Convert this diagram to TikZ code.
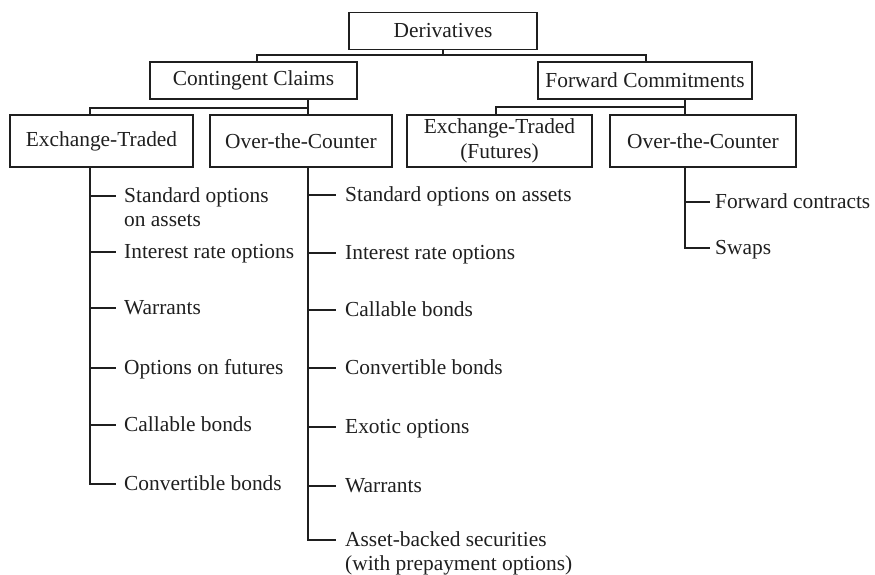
\documentclass[tikz,border=0pt]{standalone}
\usepackage{fontspec}
\setmainfont{Liberation Serif}
\newcommand\fsz{\fontsize{21.4}{24.5}\selectfont}
\begin{document}
\begin{tikzpicture}[x=1pt,y=-1pt,
  ink/.style={draw=black!88, line width=1.6pt},
  box/.style={ink, inner sep=0pt, align=center, font=\fsz, text=black!88},
  item/.style={inner sep=0pt, align=left, font=\fsz, text=black!88, anchor=base west},
  item2/.style={item, anchor=north west},
  conn/.style={ink, line width=1.5pt}]
\useasboundingbox (0,0) rectangle (875,574);
% boxes
\node[box, minimum width=188pt, minimum height=37pt] (deriv) at (443,31) {Derivatives};
\node[box, minimum width=207pt, minimum height=37pt] (cc) at (253.5,80.5) {Contingent Claims};
\node[box, minimum width=214pt, minimum height=37pt] (fc) at (645,80.5) {Forward Commitments};
\node[box, minimum width=183pt, minimum height=52pt] (et1) at (101.5,141) {Exchange-Traded};
\node[box, minimum width=182pt, minimum height=52pt] (otc1) at (301,141) {Over-the-Counter};
\node[box, minimum width=185pt, minimum height=52pt] (et2) at (499.5,141) {Exchange-Traded\\(Futures)};
\node[box, minimum width=186pt, minimum height=52pt] (otc2) at (703,141) {Over-the-Counter};
% vertical line positions
\coordinate (xcc) at (257,0);
\coordinate (xfc) at (646,0);
\coordinate (xa) at (90,0);
\coordinate (xb) at (308,0);
\coordinate (xc) at (496,0);
\coordinate (xd) at (685,0);
\coordinate (j1) at (443,55);
\coordinate (j2) at (308,108);
\coordinate (j3) at (685,107);
% top connectors
\draw[conn] (deriv.south) -- (j1);
\draw[conn] (cc.north -| xcc) |- (j1) -| (fc.north -| xfc);
\draw[conn] (cc.south -| xb) -- (otc1.north -| xb);
\draw[conn] (j2) -| (et1.north -| xa);
\draw[conn] (fc.south -| xd) -- (otc2.north -| xd);
\draw[conn] (j3) -| (et2.north -| xc);
% left list
\node[item2] (a1) at (124,187.4) {Standard options\\on assets};
\node[item] (a2) at (124,258) {Interest rate options};
\node[item] (a3) at (124,314) {Warrants};
\node[item] (a4) at (124,374) {Options on futures};
\node[item] (a5) at (124,431) {Callable bonds};
\node[item] (a6) at (124,490) {Convertible bonds};
\draw[conn] (et1.south -| xa) |- ([xshift=-8pt,yshift=6pt]a6.base west);
\draw[conn] (xa |- a1.north west) ++(0,8.6) coordinate (t1) (t1) -- ([xshift=-8pt,yshift=-8.6pt]a1.north west);
\foreach \n in {a2,a3,a4,a5}
  \draw[conn] ([yshift=6pt]\n.base west -| xa) -- ([xshift=-8pt,yshift=6pt]\n.base west);
% middle list
\node[item] (b1) at (345,201) {Standard options on assets};
\node[item] (b2) at (345,259) {Interest rate options};
\node[item] (b3) at (345,316) {Callable bonds};
\node[item] (b4) at (345,374) {Convertible bonds};
\node[item] (b5) at (345,433) {Exotic options};
\node[item] (b6) at (345,492) {Warrants};
\node[item2] (b7) at (345,531.4) {Asset-backed securities\\(with prepayment options)};
\draw[conn] (otc1.south -| xb) |- ([xshift=-9pt,yshift=-8.6pt]b7.north west);
\foreach \n in {b1,b2,b3,b4,b5,b6}
  \draw[conn] ([yshift=6pt]\n.base west -| xb) -- ([xshift=-9pt,yshift=6pt]\n.base west);
% right list
\node[item] (c1) at (715,208) {Forward contracts};
\node[item] (c2) at (715,254) {Swaps};
\draw[conn] (otc2.south -| xd) |- ([xshift=-5pt,yshift=6pt]c2.base west);
\draw[conn] ([yshift=6pt]c1.base west -| xd) -- ([xshift=-5pt,yshift=6pt]c1.base west);
\end{tikzpicture}
\end{document}
